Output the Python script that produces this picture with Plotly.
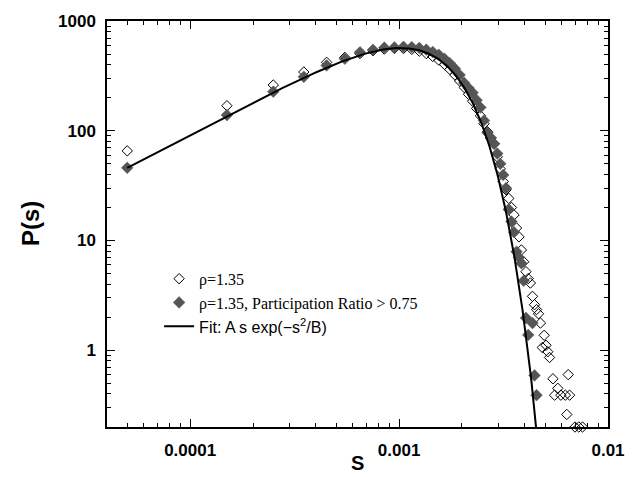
import numpy as np
import plotly.graph_objects as go

# ---- data ----
s_open = [0.00005, 0.00015, 0.00025, 0.00035, 0.00045, 0.00055, 0.00065, 0.00075,
          0.00085, 0.00095, 0.00105, 0.00115, 0.00125, 0.00135, 0.00145, 0.00155,
          0.00165, 0.00175, 0.00185, 0.00195, 0.00205, 0.00215, 0.00225, 0.00235,
          0.00245, 0.00255, 0.00265, 0.00275, 0.00285, 0.00295, 0.00305, 0.00315,
          0.00325, 0.00335, 0.00345, 0.00355, 0.00365, 0.00375, 0.00385, 0.00395,
          0.00405, 0.00415, 0.00425, 0.00435, 0.00445, 0.00455, 0.00465, 0.00475,
          0.00485, 0.00495, 0.00505, 0.00515, 0.00525, 0.00545, 0.00555, 0.00575,
          0.00595, 0.00625, 0.00635, 0.00645, 0.00655, 0.00695, 0.00725, 0.00755]
p_open = [65.6, 169, 261, 343, 420, 466, 505, 535,
          555, 562, 562, 552, 532, 505, 475, 440,
          402, 362, 322, 284, 248, 215, 186, 160,
          137, 116, 98, 86, 76, 58, 45, 34.5,
          29, 24.2, 20, 17.1, 13, 10.8, 8.2, 6.4,
          5.2, 4.5, 4.1, 3.1, 2.6, 2.35, 2.15, 1.77,
          1.06, 1.37, 1.11, 0.97, 0.86, 0.55, 0.39, 0.45,
          0.39, 0.39, 0.26, 0.60, 0.39, 0.2, 0.2, 0.2]

s_filled = [0.00005, 0.00015, 0.00025, 0.00035, 0.00045, 0.00055, 0.00065, 0.00075,
            0.00085, 0.00095, 0.00105, 0.00115, 0.00125, 0.00135, 0.00145, 0.00155,
            0.00165, 0.00175, 0.00185, 0.00195, 0.00205, 0.00215, 0.00225, 0.00235,
            0.00245, 0.00255, 0.00265, 0.00275, 0.00285, 0.00295, 0.00305, 0.00315,
            0.00325, 0.00335, 0.00345, 0.00355, 0.00365, 0.00375, 0.00385, 0.00395,
            0.00405, 0.00415, 0.00435, 0.00445, 0.00455]
p_filled = [46, 139, 227, 310, 394, 453, 519, 546,
            572, 575, 582, 578, 568, 548, 522, 492,
            452, 412, 368, 322, 273, 245, 222, 190,
            163, 124, 96, 86, 76, 62, 50, 39.6,
            30, 19.2, 14.9, 11.9, 7.9, 7.0, 6.2, 4.3,
            1.97, 1.38, 1.77, 0.59, 0.39]

# fit parameters of P(s) = A s exp(-s^2/B)
FIT_A = 9.2e5
FIT_B = 2.07e-6
FIT_S_MIN = 5e-5
FIT_S_MAX = 4.8e-3

x_tickvals = [1e-4, 1e-3, 1e-2]
x_ticktext = ["0.0001", "0.001", "0.01"]
y_tickvals = [1, 10, 100, 1000]
y_ticktext = ["1", "10", "100", "1000"]

label_open = "ρ=1.35"
label_filled = "ρ=1.35, Participation Ratio > 0.75"
label_fit = '<span style="font-family:Liberation Sans">Fit: A s exp(−s<sup>2</sup>/B)</span>'

# ---- build ----
s_fit = np.logspace(np.log10(FIT_S_MIN), np.log10(FIT_S_MAX), 500)
p_fit = FIT_A * s_fit * np.exp(-s_fit ** 2 / FIT_B)

minor_x = [k * 10.0 ** e for e in range(-5, -2) for k in range(2, 10)]
minor_y = [k * 10.0 ** e for e in range(-1, 3) for k in range(2, 10)]

fig = go.Figure()
fig.add_trace(go.Scatter(
    x=s_open, y=p_open, mode="markers", name=label_open, cliponaxis=False,
    marker=dict(symbol="diamond-open", size=8, color="black",
                line=dict(color="black", width=1))))
fig.add_trace(go.Scatter(
    x=s_filled, y=p_filled, mode="markers", name=label_filled, cliponaxis=False,
    marker=dict(symbol="diamond", size=9, color="#555555",
                line=dict(color="#555555", width=0.5))))
fig.add_trace(go.Scatter(
    x=s_fit, y=p_fit, mode="lines", name=label_fit,
    line=dict(color="black", width=2)))

tickfont = dict(family="Liberation Sans", size=17, color="black", weight="bold")
axis_common = dict(
    type="log", showgrid=False, zeroline=False, showline=True,
    linecolor="black", linewidth=1.5, mirror="ticks",
    ticks="inside", ticklen=8, tickwidth=1.2, tickcolor="black",
    tickfont=tickfont, tickmode="array",
)

fig.update_layout(
    width=644, height=477,
    margin=dict(l=107, r=36, t=14, b=50),
    paper_bgcolor="white", plot_bgcolor="white",
    showlegend=True,
    legend=dict(x=0.104, y=0.407, xanchor="left", yanchor="top",
                bgcolor="rgba(0,0,0,0)", borderwidth=0,
                font=dict(family="Liberation Serif", size=16, color="black"),
                tracegroupgap=0),
    xaxis=dict(**axis_common, range=[np.log10(4e-5), -2],
               tickvals=x_tickvals, ticktext=x_ticktext, ticklabelstandoff=7,
               minor=dict(tickvals=minor_x, ticks="inside", ticklen=4,
                          tickwidth=1, tickcolor="black", showgrid=False)),
    yaxis=dict(**axis_common, range=[np.log10(0.2), 3],
               tickvals=y_tickvals, ticktext=y_ticktext, ticklabelstandoff=6,
               minor=dict(tickvals=minor_y, ticks="inside", ticklen=4,
                          tickwidth=1, tickcolor="black", showgrid=False)),
    annotations=[
        dict(text="<b>P(s)</b>", xref="paper", yref="paper", x=0, y=0.5,
             xanchor="center", yanchor="middle", xshift=-77, textangle=-90,
             showarrow=False,
             font=dict(family="Liberation Sans", size=24, color="black")),
        dict(text="<b>S</b>", xref="paper", yref="paper", x=0.5, y=0,
             xanchor="center", yanchor="middle", yshift=-36,
             showarrow=False, borderpad=0,
             font=dict(family="Liberation Sans", size=20, color="black")),
    ],
)

fig.write_html("out.html",
               config={"displayModeBar": False},
               post_script="document.body.style.margin='0';"
                           "document.body.style.overflow='hidden';")
